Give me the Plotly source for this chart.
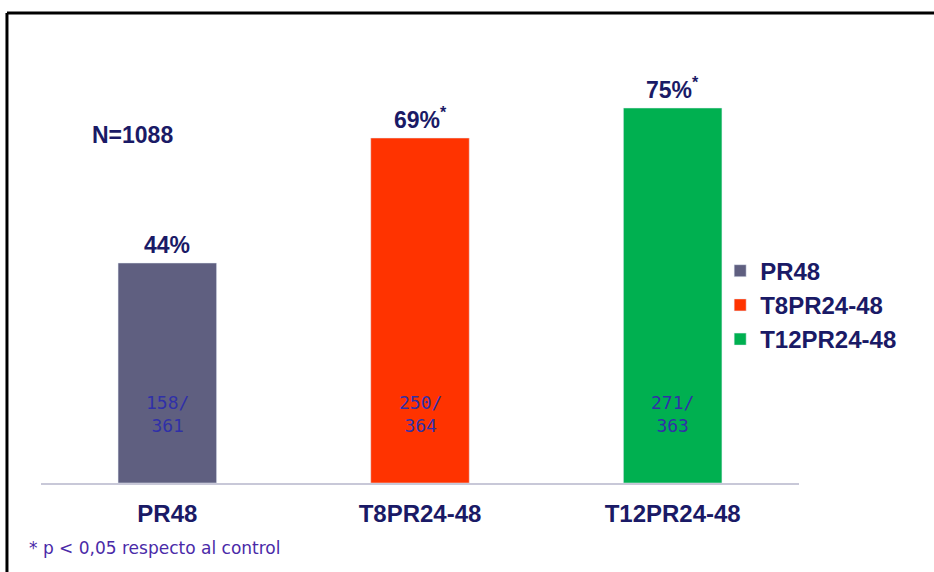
import plotly.graph_objects as go

categories = ["PR48", "T8PR24-48", "T12PR24-48"]
values = [44, 69, 75]
top_labels = ["44%", "69%<sup>*</sup>", "75%<sup>*</sup>"]
inner_labels = ["158/<br>361", "250/<br>364", "271/<br>363"]
colors = ["#5f5f80", "#ff3300", "#00b050"]

NAVY = "#1a1a66"
BASE = "Liberation Sans, Arial, sans-serif"

fig = go.Figure()
for c, v, col in zip(categories, values, colors):
    fig.add_trace(go.Bar(x=[c], y=[v], name=c, marker_color=col, width=0.39,
                         legendgroup=c, hoverinfo="skip"))

annotations = []
for c, v, t, inner in zip(categories, values, top_labels, inner_labels):
    annotations.append(dict(x=c, y=v, text=t, showarrow=False, yanchor="bottom", yshift=3,
                            font=dict(family=BASE, size=23, color=NAVY, weight="bold")))
    annotations.append(dict(x=c, y=13.8, text=inner, showarrow=False,
                            font=dict(family="DejaVu Sans Mono, monospace", size=18, color="#3030a8")))
annotations.append(dict(x=-0.306, y=69.6, text="N=1088", showarrow=False, xanchor="left",
                        font=dict(family=BASE, size=23, color=NAVY, weight="bold")))
annotations.append(dict(xref="paper", yref="paper", x=-0.0185, y=-0.1625, text="* p &lt; 0,05 respecto al control",
                        showarrow=False, xanchor="left", yanchor="middle",
                        font=dict(family="Comic Sans MS, DejaVu Sans, sans-serif", size=17, color="#4a2aa8")))

fig.update_layout(
    width=934, height=572,
    margin=dict(l=41, r=135, t=83, b=89),
    paper_bgcolor="white", plot_bgcolor="white",
    bargap=0.61,
    showlegend=True,
    legend=dict(x=0.896, y=0.586, xanchor="left", yanchor="top", tracegroupgap=0,
                font=dict(family=BASE, size=24, color=NAVY, weight="bold"),
                bgcolor="rgba(0,0,0,0)"),
    annotations=annotations,
    shapes=[
        dict(type="line", xref="paper", yref="paper", x0=-0.0449, x1=1.2, y0=1.175, y1=1.175,
             line=dict(color="black", width=3)),
        dict(type="line", xref="paper", yref="paper", x0=-0.0449, x1=-0.0449, y0=1.175, y1=-0.25,
             line=dict(color="black", width=3)),
    ],
)
fig.update_xaxes(showline=True, linecolor="#c8c8d8", linewidth=1.5, ticks="", showgrid=False,
                 tickfont=dict(family=BASE, size=24, color=NAVY, weight="bold"),
                 range=[-0.5, 2.5], ticklabelstandoff=8)
fig.update_yaxes(visible=False, range=[0, 80], showgrid=False)

fig.write_html("out.html")
